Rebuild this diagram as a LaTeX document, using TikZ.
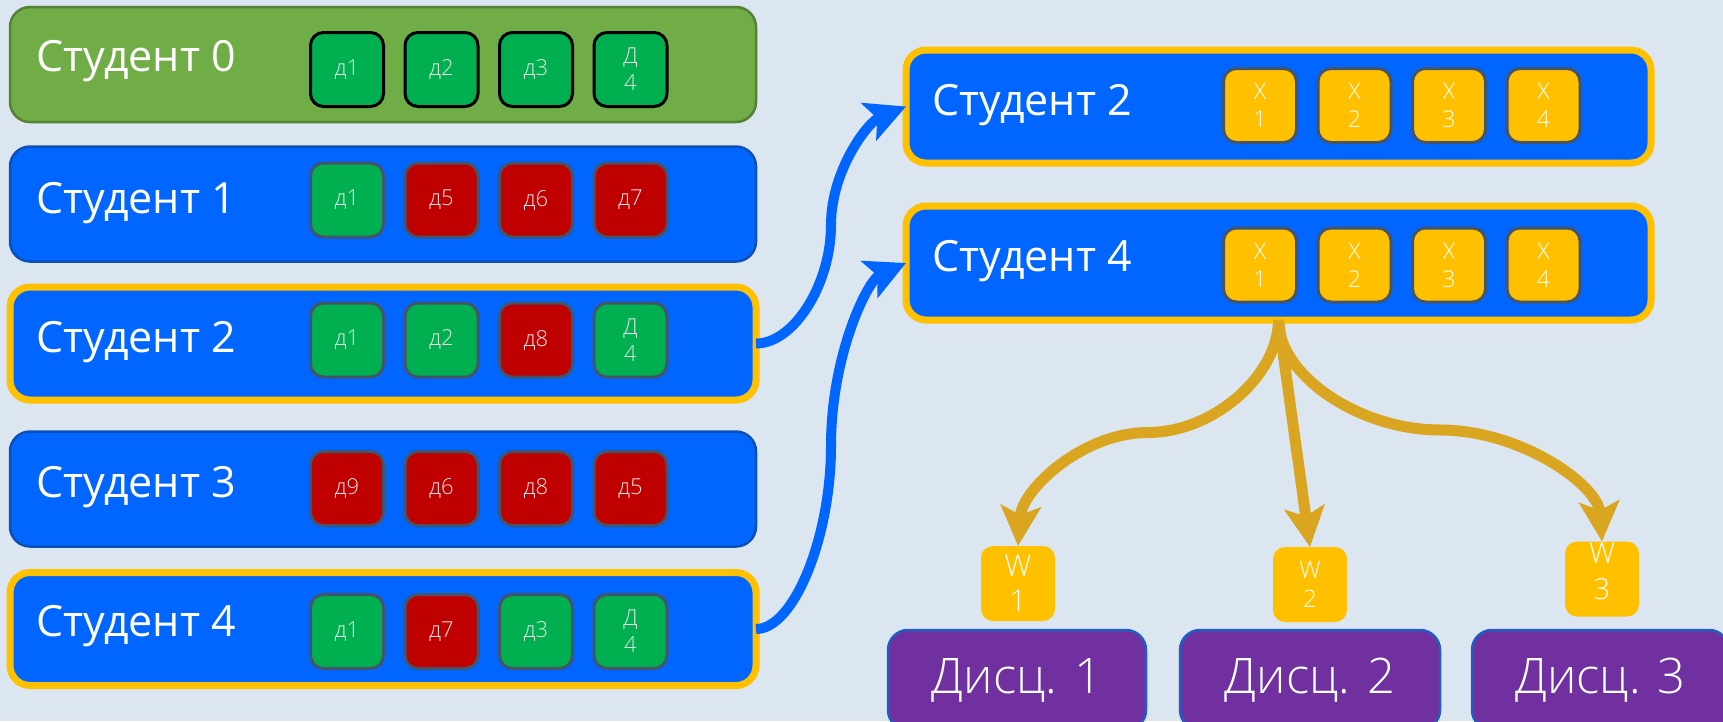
\documentclass[tikz,border=0pt]{standalone}
\usepackage{fontspec}
\setmainfont{Open Sans}
\IfFontExistsTF{Open Sans Light}{\newfontfamily\lightf{Open Sans Light}}{\newfontfamily\lightf{Open Sans}}
\usetikzlibrary{arrows.meta}
\definecolor{bg}{HTML}{DCE6F0}
\definecolor{bluef}{HTML}{0066FF}
\definecolor{blued}{HTML}{0A50B5}
\definecolor{greenbox}{HTML}{70AD47}
\definecolor{greenboxd}{HTML}{548235}
\definecolor{sqgreen}{HTML}{00B050}
\definecolor{sqred}{HTML}{C00000}
\definecolor{gold}{HTML}{FFC000}
\definecolor{slate}{HTML}{44546A}
\definecolor{arrgold}{HTML}{DAA520}
\definecolor{purp}{HTML}{7030A0}
\definecolor{purpd}{HTML}{1F5FC0}
\begin{document}
\begin{tikzpicture}[x=1pt,y=-1pt,
  every node/.style={inner sep=0pt, outer sep=0pt},
  rowbox/.style={rectangle, rounded corners=20pt, fill=bluef, draw=blued, line width=2.5pt, minimum width=746pt, minimum height=115pt},
  selbox/.style={rowbox, draw=gold, line width=7pt, minimum height=113pt},
  rbox/.style={selbox, minimum width=745pt},
  lbl/.style={anchor=base west, text=white, font=\fontsize{43}{50}\selectfont},
  sq/.style={rectangle, rounded corners=13pt, minimum width=73pt, minimum height=74pt, draw=slate, line width=3pt, text=white!90!black, align=center, font=\lightf\fontsize{22}{27}\selectfont},
  sqg/.style={sq, fill=sqgreen},
  sqr/.style={sq, fill=sqred},
  sqk/.style={sq, fill=sqgreen, draw=black},
  sqx/.style={sq, fill=gold, text=white, font=\lightf\fontsize{23}{28}\selectfont},
  wbox/.style={rectangle, rounded corners=12pt, fill=gold, minimum width=74pt, minimum height=75pt, text=white, align=center},
  disc/.style={rectangle, rounded corners=20pt, fill=purp, draw=purpd, line width=2.5pt, minimum height=100pt, text=white, font=\lightf\fontsize{49}{55}\selectfont},
  barr/.style={draw=bluef, line width=10pt, -{Stealth[length=40pt,width=40pt,inset=9pt]}},
  garr/.style={draw=arrgold, line width=11pt, -{Stealth[length=40pt,width=40pt,inset=9pt]}}
]
\path[use as bounding box, fill=bg] (0,0) rectangle (1723,721);
\clip (0,0) rectangle (1723,721);

% left rows
\node[rowbox, fill=greenbox, draw=greenboxd] (L0) at (383,64.5) {};
\node[rowbox] (L1) at (383,204) {};
\node[selbox] (L2) at (383,343.5) {};
\node[rowbox] (L3) at (383,489) {};
\node[selbox] (L4) at (383,629) {};

\node[lbl] (L0t) at (36,71) {Студент 0};
\node[lbl] (L1t) at (36,213) {Студент 1};
\node[lbl] (L2t) at (36,352) {Студент 2};
\node[lbl] (L3t) at (36,497) {Студент 3};
\node[lbl] (L4t) at (36,636) {Студент 4};

% row 0
\node[sqk] (L0a) at (347,69.5) {д1};
\node[sqk] (L0b) at (441.5,69.5) {д2};
\node[sqk] (L0c) at (536,69.5) {д3};
\node[sqk] (L0d) at (630.5,69.5) {Д\\4};
% row 1
\node[sqg] (L1a) at (347,200) {д1};
\node[sqr] (L1b) at (441.5,200) {д5};
\node[sqr] (L1c) at (536,200) {д6};
\node[sqr] (L1d) at (630.5,200) {д7};
% row 2
\node[sqg] (L2a) at (347,340) {д1};
\node[sqg] (L2b) at (441.5,340) {д2};
\node[sqr] (L2c) at (536,340) {д8};
\node[sqg] (L2d) at (630.5,340) {Д\\4};
% row 3
\node[sqr] (L3a) at (347,488.5) {д9};
\node[sqr] (L3b) at (441.5,488.5) {д6};
\node[sqr] (L3c) at (536,488.5) {д8};
\node[sqr] (L3d) at (630.5,488.5) {д5};
% row 4
\node[sqg] (L4a) at (347,631.5) {д1};
\node[sqr] (L4b) at (441.5,631.5) {д7};
\node[sqg] (L4c) at (536,631.5) {д3};
\node[sqg] (L4d) at (630.5,631.5) {Д\\4};

% right boxes
\node[rbox] (R2) at (1278.5,106.5) {};
\node[rbox, minimum height=114pt] (R4) at (1278.5,263) {};
\node[lbl] (R2t) at (932,115) {Студент 2};
\node[lbl] (R4t) at (932,271) {Студент 4};

\node[sqx] (R2a) at (1260,105.5) {X\\1};
\node[sqx] (R2b) at (1354.5,105.5) {X\\2};
\node[sqx] (R2c) at (1449,105.5) {X\\3};
\node[sqx] (R2d) at (1543.5,105.5) {X\\4};
\node[sqx] (R4a) at (1260,265) {X\\1};
\node[sqx] (R4b) at (1354.5,265) {X\\2};
\node[sqx] (R4c) at (1449,265) {X\\3};
\node[sqx] (R4d) at (1543.5,265) {X\\4};

% W boxes
\node[wbox, font=\lightf\fontsize{30}{35}\selectfont] (W1) at (1018,583.5) {W\\1};
\node[wbox, font=\lightf\fontsize{24}{29}\selectfont] (W2) at (1310,584.5) {W\\2};
\node[wbox] (W3) at (1602,579) {};
\node[text=white, align=center, font=\lightf\fontsize{29}{36}\selectfont] (W3t) at (1602,571) {W\\3};

% discipline boxes
\node[disc, minimum width=258pt] (D1) at (1017,680) {Дисц. 1};
\node[disc, minimum width=260pt] (D2) at (1310,680) {Дисц. 2};
\node[disc, minimum width=257pt] (D3) at (1600.5,680) {Дисц. 3};

% blue arrows
\draw[barr] (L2.east) .. controls (794,343.5) and (831,284) .. (831,225)
  .. controls (831,170) and (868,122) .. (R2.west);
\draw[barr] (L4.east) .. controls (794,629) and (831,537) .. (831,446)
  .. controls (831,354) and (868,280) .. (R4.west);

% gold arrows
\draw[garr] (R4.south) .. controls (1278,376) and (1213,432.5) .. (1148,432.5)
  .. controls (1083,432.5) and (1022,489) .. (W1.north);
\draw[garr] (R4.south) -- (W2.north);
\draw[garr] (R4.south) .. controls (1278,375) and (1359,430) .. (1440,430)
  .. controls (1521,430) and (1598,485) .. (W3.north);
\end{tikzpicture}
\end{document}
